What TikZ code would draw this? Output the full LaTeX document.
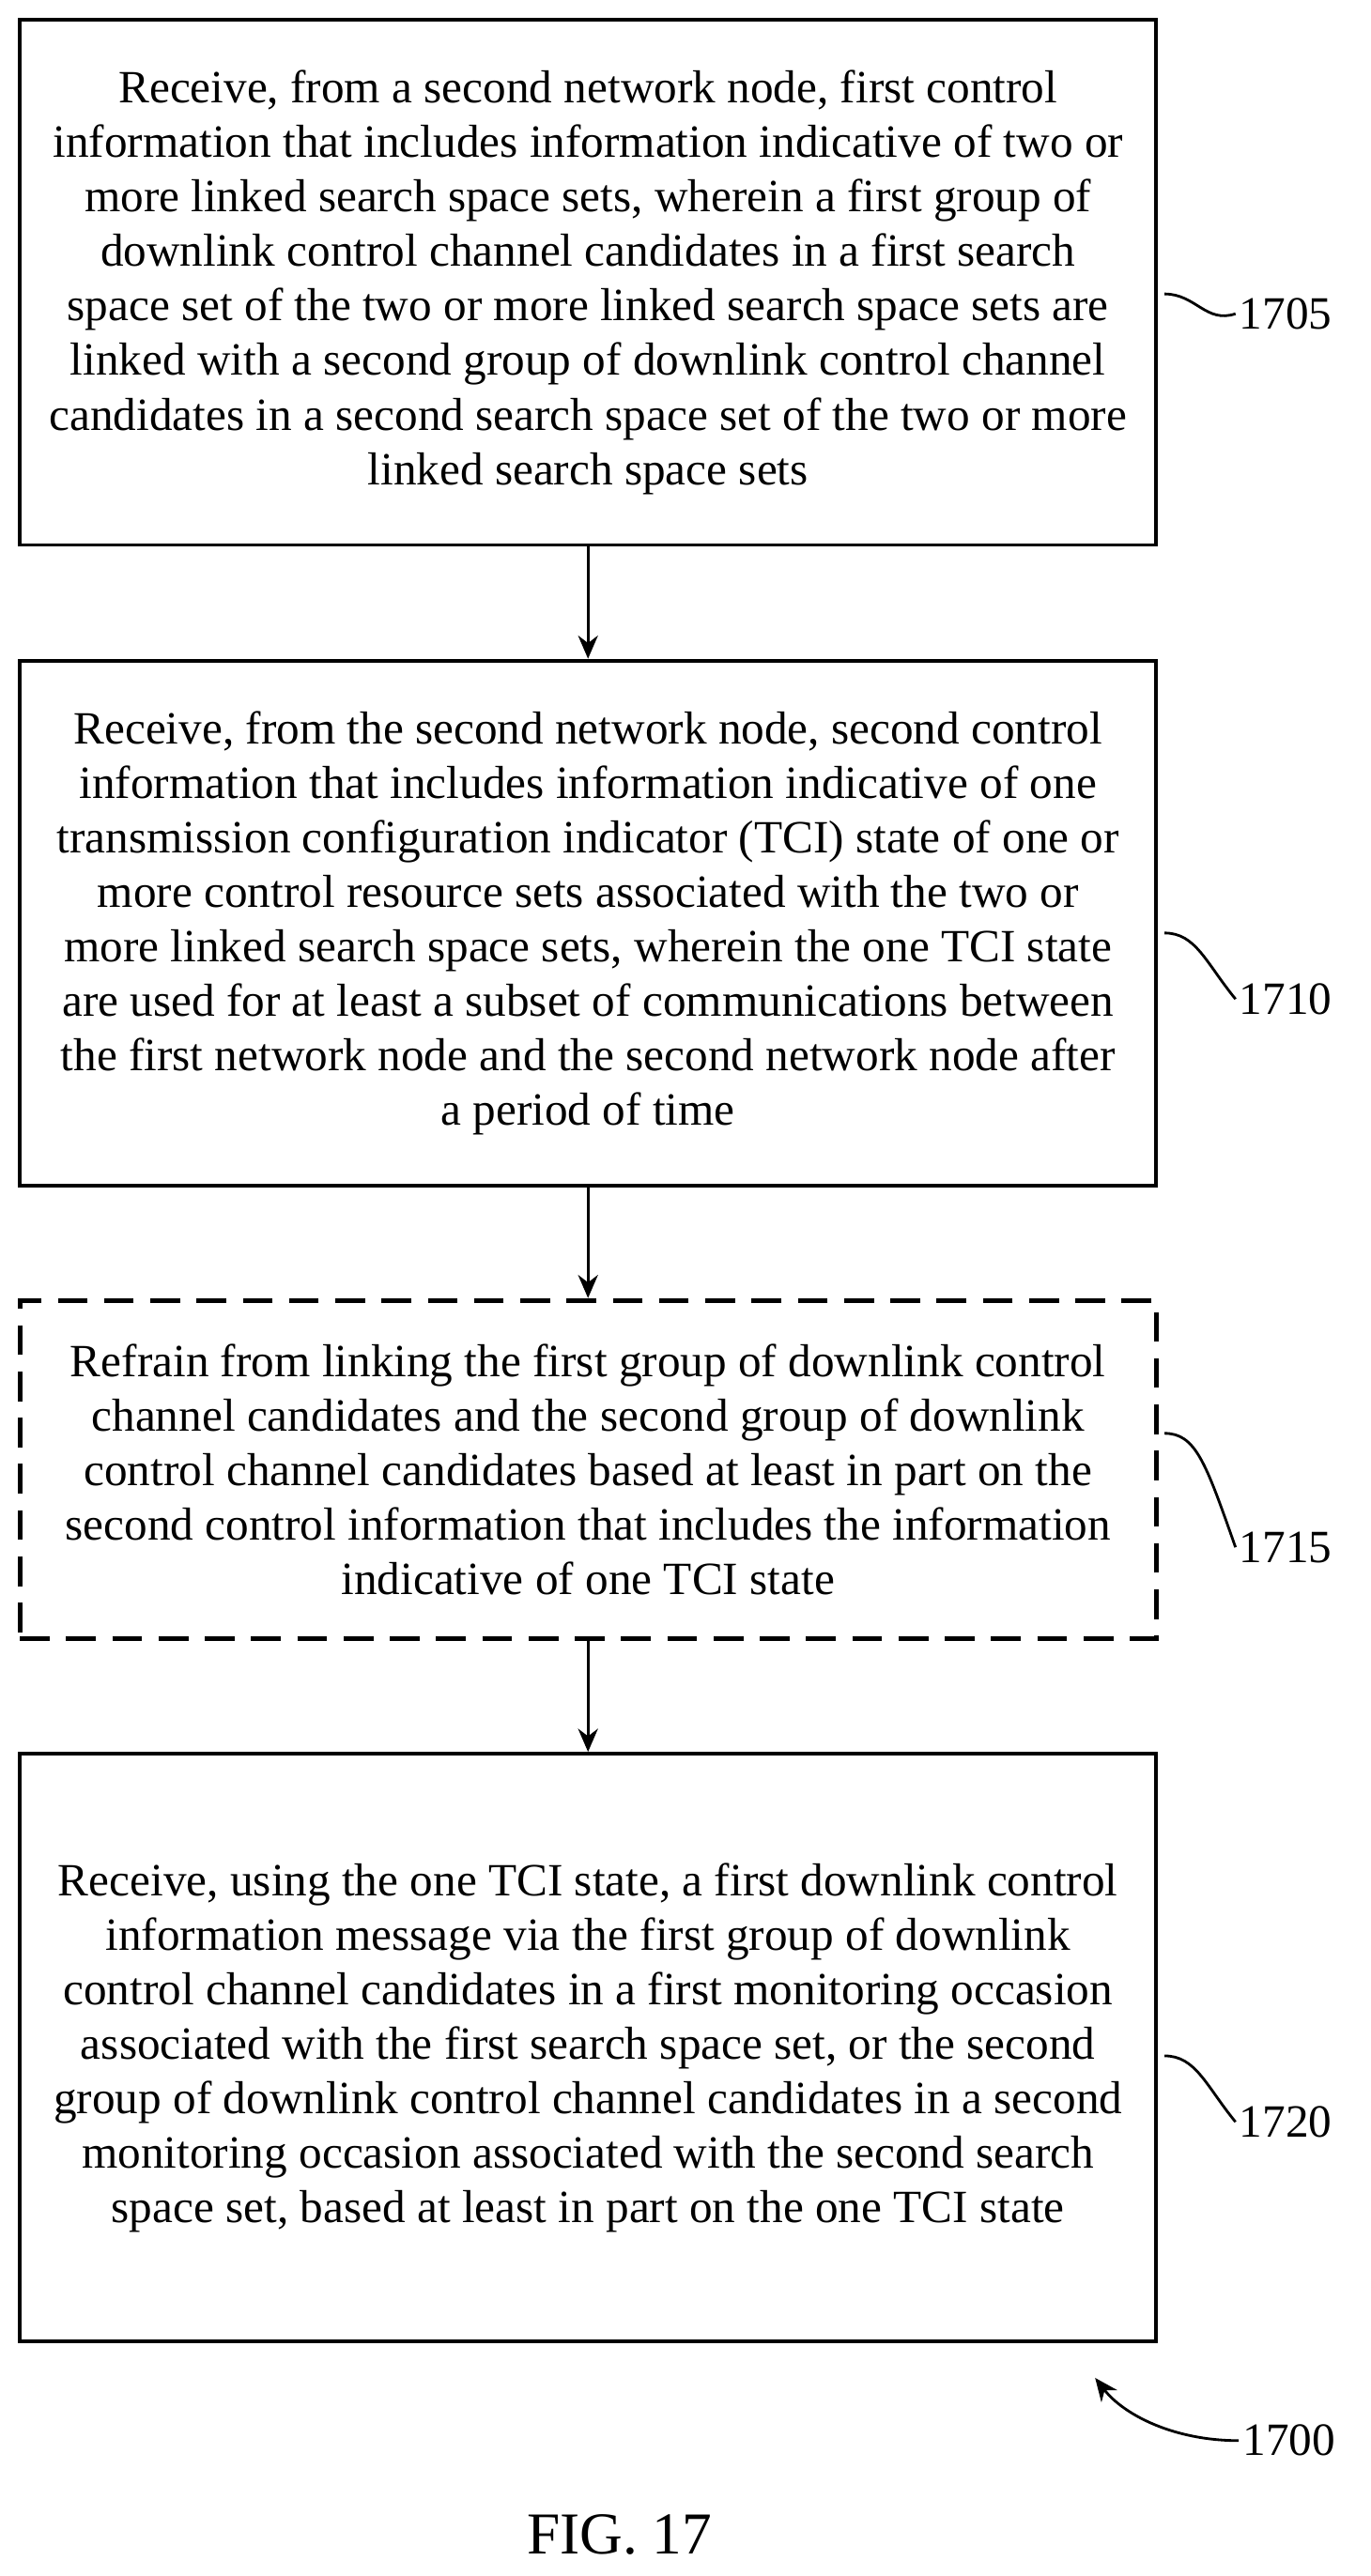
\documentclass[tikz,border=0pt]{standalone}
\usepackage{fontspec}
\setmainfont{Liberation Serif}
\usetikzlibrary{arrows.meta,positioning}
\tikzset{
  stepbox/.style={draw, line width=1.1pt, minimum width=344pt, align=center, font=\fontsize{14}{16.5}\selectfont, inner sep=0pt},
  lbl/.style={font=\fontsize{14}{16}\selectfont, anchor=west, inner sep=1pt},
  flow/.style={-{Stealth[length=7pt,width=6pt]}, line width=0.9pt}
}
\begin{document}
\begin{tikzpicture}[x=0.5pt,y=-0.5pt]
\useasboundingbox (0,0) rectangle (830,1560);

\node[stepbox, minimum height=159pt] (s1) at (356,171) {Receive, from a second network node, first control\\
information that includes information indicative of two or\\
more linked search space sets, wherein a first group of\\
downlink control channel candidates in a first search\\
space set of the two or more linked search space sets are\\
linked with a second group of downlink control channel\\
candidates in a second search space set of the two or more\\
linked search space sets};

\node[stepbox, minimum height=159pt] (s2) at (356,559) {Receive, from the second network node, second control\\
information that includes information indicative of one\\
transmission configuration indicator (TCI) state of one or\\
more control resource sets associated with the two or\\
more linked search space sets, wherein the one TCI state\\
are used for at least a subset of communications between\\
the first network node and the second network node after\\
a period of time};

\node[stepbox, minimum height=102.5pt, line width=1.4pt, dash pattern=on 9pt off 5pt] (s3) at (356,890) {Refrain from linking the first group of downlink control\\
channel candidates and the second group of downlink\\
control channel candidates based at least in part on the\\
second control information that includes the information\\
indicative of one TCI state};

\node[stepbox, minimum height=178pt] (s4) at (356,1240) {Receive, using the one TCI state, a first downlink control\\
information message via the first group of downlink\\
control channel candidates in a first monitoring occasion\\
associated with the first search space set, or the second\\
group of downlink control channel candidates in a second\\
monitoring occasion associated with the second search\\
space set, based at least in part on the one TCI state};

\draw[flow] (s1) -- (s2);
\draw[flow] (s2) -- (s3);
\draw[flow] (s3) -- (s4);

% step labels
\node[lbl] (n1) at (748,190) {1705};
\node[lbl] (n2) at (748,605) {1710};
\node[lbl] (n3) at (748,937) {1715};
\node[lbl] (n4) at (748,1285) {1720};
\foreach \n/\y in {n1/178, n2/565, n3/868, n4/1245}
  \draw[line width=0.8pt] (705,\y) .. controls (724,\y) and (730,\y+18) .. (\n.west);

% figure label
\node[lbl] (n0) at (750,1478) {1700};
\coordinate (a0) at (663,1440);
\draw[line width=0.8pt, -{Stealth[length=7pt,width=6pt]}] (n0.west) .. controls (710,1478) and (680,1462) .. (a0);
\node[font=\fontsize{18}{20}\selectfont] (fig) at (375,1535) {FIG. 17};
\end{tikzpicture}
\end{document}
